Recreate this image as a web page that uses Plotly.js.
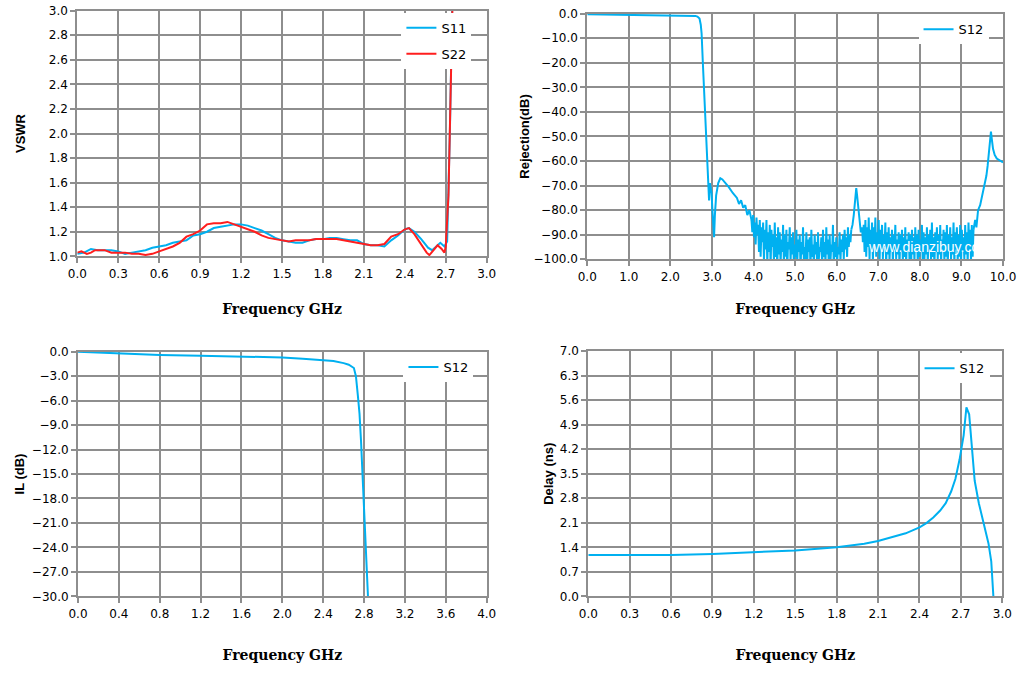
<!DOCTYPE html>
<html>
<head>
<meta charset="utf-8">
<script src="https://cdn.plot.ly/plotly-3.0.1.min.js"></script>
<style>body{margin:0;background:#fff}#myDiv{width:1024px;height:677px}</style>
</head>
<body>
<div id="myDiv"></div>
<script>
// VSWR (top left)
var vswrX11 = [0,0.05,0.1,0.15,0.2,0.25,0.3,0.35,0.4,0.45,0.5,0.55,0.6,0.65,0.7,0.75,0.8,0.85,0.9,0.95,1.0,1.05,1.1,1.15,1.2,1.25,1.3,1.35,1.4,1.45,1.5,1.55,1.6,1.65,1.7,1.75,1.8,1.85,1.9,1.95,2.0,2.05,2.1,2.15,2.2,2.25,2.3,2.35,2.4,2.43,2.47,2.52,2.57,2.6,2.63,2.66,2.69,2.71,2.73,2.75];
var vswrY11 = [1.02,1.03,1.06,1.05,1.05,1.05,1.04,1.02,1.03,1.04,1.05,1.07,1.08,1.09,1.11,1.12,1.13,1.17,1.18,1.20,1.23,1.24,1.25,1.26,1.26,1.25,1.23,1.21,1.18,1.15,1.13,1.12,1.11,1.11,1.13,1.14,1.14,1.15,1.15,1.14,1.13,1.13,1.10,1.09,1.09,1.08,1.13,1.17,1.22,1.23,1.20,1.14,1.07,1.05,1.08,1.11,1.08,1.12,2.0,3.2];
var vswrX22 = [0,0.03,0.07,0.1,0.13,0.2,0.25,0.3,0.35,0.4,0.45,0.5,0.55,0.6,0.65,0.7,0.75,0.8,0.85,0.9,0.95,1.0,1.05,1.1,1.15,1.2,1.25,1.3,1.35,1.4,1.45,1.5,1.55,1.6,1.65,1.7,1.75,1.8,1.85,1.9,1.95,2.0,2.05,2.1,2.15,2.2,2.25,2.3,2.35,2.4,2.43,2.47,2.52,2.56,2.58,2.61,2.64,2.67,2.69,2.7,2.72,2.735,2.75];
var vswrY22 = [1.03,1.04,1.02,1.03,1.05,1.05,1.03,1.03,1.03,1.02,1.02,1.01,1.02,1.04,1.06,1.08,1.11,1.16,1.18,1.21,1.26,1.27,1.27,1.28,1.26,1.24,1.22,1.20,1.17,1.15,1.14,1.13,1.12,1.13,1.13,1.13,1.14,1.14,1.14,1.14,1.13,1.12,1.11,1.10,1.09,1.09,1.10,1.16,1.18,1.22,1.23,1.18,1.10,1.03,1.01,1.05,1.09,1.06,1.03,1.08,1.5,2.3,3.1];

// Rejection S12 (top right)
var rejX = [0,0.5,1.0,1.5,2.0,2.3,2.5,2.6,2.65,2.7,2.73,2.75,2.78,2.81,2.84,2.87,2.9,2.92,2.93,2.95,2.97,2.99,3.01,3.03,3.05,3.07,3.1,3.15,3.2,3.25,3.3,3.4,3.5,3.6,3.65,3.7,3.75,3.8,3.85,3.9,3.95];
var rejY = [-0.2,-0.3,-0.4,-0.45,-0.5,-0.55,-0.7,-0.9,-1.2,-2.0,-4.5,-8,-20,-32,-45,-56,-64,-72,-76,-69,-71,-73,-80,-86,-91,-82,-74,-69,-67,-67.5,-68.5,-70.5,-73,-75,-77.5,-76,-79,-78,-82,-80,-84];
var noiseStep = 0.02;
var noiseAStart = 3.95;
var noiseAY = [-84,-89,-82,-91,-85,-94,-83,-90,-86,-97,
  -84,-99,-87,-93,-85,-101,-88,-96,-84,-102,
  -89,-97,-86,-103,-88,-95,-90,-101,-85,-99,
  -91,-104,-87,-98,-89,-102,-92,-97,-86,-103,
  -90,-99,-88,-104,-93,-96,-87,-101,-91,-98,
  -89,-103,-94,-99,-88,-102,-92,-97,-90,-104,
  -93,-98,-87,-101,-95,-100,-89,-103,-92,-97,
  -91,-104,-88,-99,-94,-102,-90,-98,-93,-103,
  -89,-100,-95,-97,-91,-104,-88,-99,-93,-102,
  -87,-98,-92,-103,-90,-101,-94,-97,-86,-104,
  -93,-99,-91,-102,-95,-98,-89,-101,-92,-97,
  -90,-100,-88,-96,-91,-99,-87,-95,-90,-93,
  -88];
var spurX = [6.35,6.38,6.41,6.44,6.47,6.49,6.52,6.55,6.58,6.61,6.63];
var spurY = [-88,-86,-82,-77,-71,-74,-80,-85,-89,-87,-93];
var noiseBStart = 6.63;
var noiseBY = [-93,-86,-97,-84,-99,-87,-95,-83,-100,-88,
  -96,-85,-101,-87,-94,-83,-99,-89,-97,-84,
  -102,-88,-96,-86,-100,-90,-95,-85,-103,-89,
  -98,-87,-101,-91,-97,-88,-102,-90,-96,-86,
  -100,-92,-98,-89,-103,-90,-97,-88,-101,-91,
  -99,-87,-102,-92,-97,-89,-100,-90,-103,-88,
  -98,-91,-101,-87,-96,-90,-102,-88,-99,-92,
  -97,-86,-103,-89,-100,-91,-98,-87,-102,-90,
  -96,-88,-101,-85,-99,-91,-103,-89,-97,-87,
  -100,-90,-98,-86,-102,-92,-96,-88,-101,-89,
  -99,-86,-103,-90,-97,-87,-100,-91,-98,-85,
  -102,-89,-96,-87,-101,-90,-99,-86,-103,-88,
  -97,-91,-100,-86,-98,-89,-102,-85,-96,-88,
  -101,-86,-99,-88];
var tailX = [9.29,9.33,9.36,9.4,9.45,9.5,9.55,9.6,9.63,9.66,9.69,9.71,9.73,9.76,9.8,9.85,9.9,9.95,10.0];
var tailY = [-88,-84,-87,-80,-78,-74,-71,-66,-62,-57,-51,-48,-51,-55,-57.5,-59,-59.5,-60,-60.5];

// IL S12 (bottom left)
var ilX = [0,0.4,0.8,1.2,1.6,2.0,2.2,2.4,2.5,2.6,2.65,2.7,2.72,2.74,2.755,2.77,2.79,2.81,2.835,2.845];
var ilY = [0,-0.2,-0.4,-0.5,-0.6,-0.7,-0.85,-1.0,-1.15,-1.4,-1.6,-2.0,-3.0,-5.5,-7.6,-11,-17,-22,-30,-32];

// Delay S12 (bottom right)
var dlX = [0,0.3,0.6,0.9,1.2,1.5,1.8,2.0,2.1,2.2,2.3,2.4,2.45,2.5,2.55,2.59,2.63,2.66,2.69,2.72,2.74,2.76,2.78,2.80,2.83,2.865,2.9,2.92,2.93,2.94];
var dlY = [1.18,1.17,1.18,1.21,1.25,1.31,1.40,1.50,1.58,1.68,1.80,1.97,2.09,2.25,2.45,2.66,3.0,3.35,3.9,4.6,5.4,5.2,4.3,3.3,2.66,2.09,1.51,1.0,0.0,-0.3];

var cyan = 'rgb(0,176,240)';
var red = 'rgb(255,30,30)';
var gridCol = '#8e8e8e';
var tickFont = {family: 'DejaVu Sans', size: 12, color: '#000'};
var xTitleFont = {family: 'DejaVu Serif', size: 14, color: '#000', weight: 'bold'};
var yTitleFont = {family: 'Liberation Sans', size: 13, color: '#000', weight: 'bold'};

function ax(domain, range, dtick, anchor, title, font, standoff) {
  return {
    domain: domain, range: range, dtick: dtick, tick0: 0, anchor: anchor,
    tickformat: '.1f', tickfont: tickFont,
    showgrid: true, gridcolor: gridCol, gridwidth: 2,
    showline: true, linecolor: gridCol, linewidth: 2, mirror: true,
    ticks: 'outside', ticklen: 5, tickcolor: gridCol, tickwidth: 2,
    zeroline: false, fixedrange: true,
    title: {text: title, font: font, standoff: standoff}
  };
}

function legendAt(x, y) {
  return {x: x, y: y, xanchor: 'left', yanchor: 'top', bgcolor: '#fff',
    borderwidth: 0, font: {family: 'DejaVu Sans', size: 13, color: '#000'},
    traceorder: 'grouped', tracegroupgap: 6};
}

var data = [];
data.push({x: vswrX11, y: vswrY11, name: 'S11', type: 'scatter', mode: 'lines',
  line: {color: cyan, width: 2}, xaxis: 'x', yaxis: 'y', legend: 'legend', legendgroup: 'a'});
data.push({x: vswrX22, y: vswrY22, name: 'S22', type: 'scatter', mode: 'lines',
  line: {color: red, width: 2}, xaxis: 'x', yaxis: 'y', legend: 'legend', legendgroup: 'b'});

data.push({x: rejX, y: rejY, name: 'S12', type: 'scatter', mode: 'lines',
  line: {color: cyan, width: 2}, xaxis: 'x2', yaxis: 'y2', legend: 'legend2'});
data.push({x0: noiseAStart, dx: noiseStep, y: noiseAY, name: 'S12', showlegend: false, type: 'scatter', mode: 'lines',
  line: {color: cyan, width: 2}, xaxis: 'x2', yaxis: 'y2'});
data.push({x: spurX, y: spurY, name: 'S12', showlegend: false, type: 'scatter', mode: 'lines',
  line: {color: cyan, width: 2}, xaxis: 'x2', yaxis: 'y2'});
data.push({x0: noiseBStart, dx: noiseStep, y: noiseBY, name: 'S12', showlegend: false, type: 'scatter', mode: 'lines',
  line: {color: cyan, width: 2}, xaxis: 'x2', yaxis: 'y2'});
data.push({x: tailX, y: tailY, name: 'S12', showlegend: false, type: 'scatter', mode: 'lines',
  line: {color: cyan, width: 2}, xaxis: 'x2', yaxis: 'y2'});

data.push({x: ilX, y: ilY, name: 'S12', type: 'scatter', mode: 'lines',
  line: {color: cyan, width: 2}, xaxis: 'x3', yaxis: 'y3', legend: 'legend3'});
data.push({x: dlX, y: dlY, name: 'S12', type: 'scatter', mode: 'lines',
  line: {color: cyan, width: 2}, xaxis: 'x4', yaxis: 'y4', legend: 'legend4'});

var layout = {
  width: 1024, height: 677,
  margin: {l: 0, r: 0, t: 0, b: 0},
  paper_bgcolor: '#fff', plot_bgcolor: '#fff',
  xaxis: ax([0.0755, 0.4753], [0, 3], 0.3, 'y', 'Frequency GHz', xTitleFont, 24),
  yaxis: ax([0.6214, 0.9842], [1, 3], 0.2, 'x', 'VSWR', yTitleFont, 20),
  xaxis2: ax([0.5735, 0.9795], [0, 10], 1, 'y2', 'Frequency GHz', xTitleFont, 22),
  yaxis2: ax([0.6170, 0.9798], [-100, 0], 10, 'x2', 'Rejection(dB)', yTitleFont, 1),
  xaxis3: ax([0.0762, 0.4753], [0, 4], 0.4, 'y3', 'Frequency GHz', xTitleFont, 30),
  yaxis3: ax([0.1192, 0.4805], [-30, 0], 3, 'x3', 'IL (dB)', yTitleFont, 4),
  xaxis4: ax([0.5745, 0.9788], [0, 3], 0.3, 'y4', 'Frequency GHz', xTitleFont, 30),
  yaxis4: ax([0.1192, 0.4811], [0, 7], 0.7, 'x4', 'Delay (ns)', yTitleFont, 3),
  legend: legendAt(0.392, 0.981),
  legend2: legendAt(0.897, 0.979),
  legend3: legendAt(0.394, 0.480),
  legend4: legendAt(0.898, 0.478),
  annotations: [{
    text: 'www.dianzibuy.com', xref: 'paper', yref: 'paper',
    x: 866 / 1024, y: (677 - 247) / 677, xanchor: 'left', yanchor: 'middle',
    showarrow: false, font: {family: 'Liberation Sans', size: 14, color: '#fff'}
  }]
};

Plotly.newPlot('myDiv', data, layout, {staticPlot: true});
</script>
</body>
</html>
